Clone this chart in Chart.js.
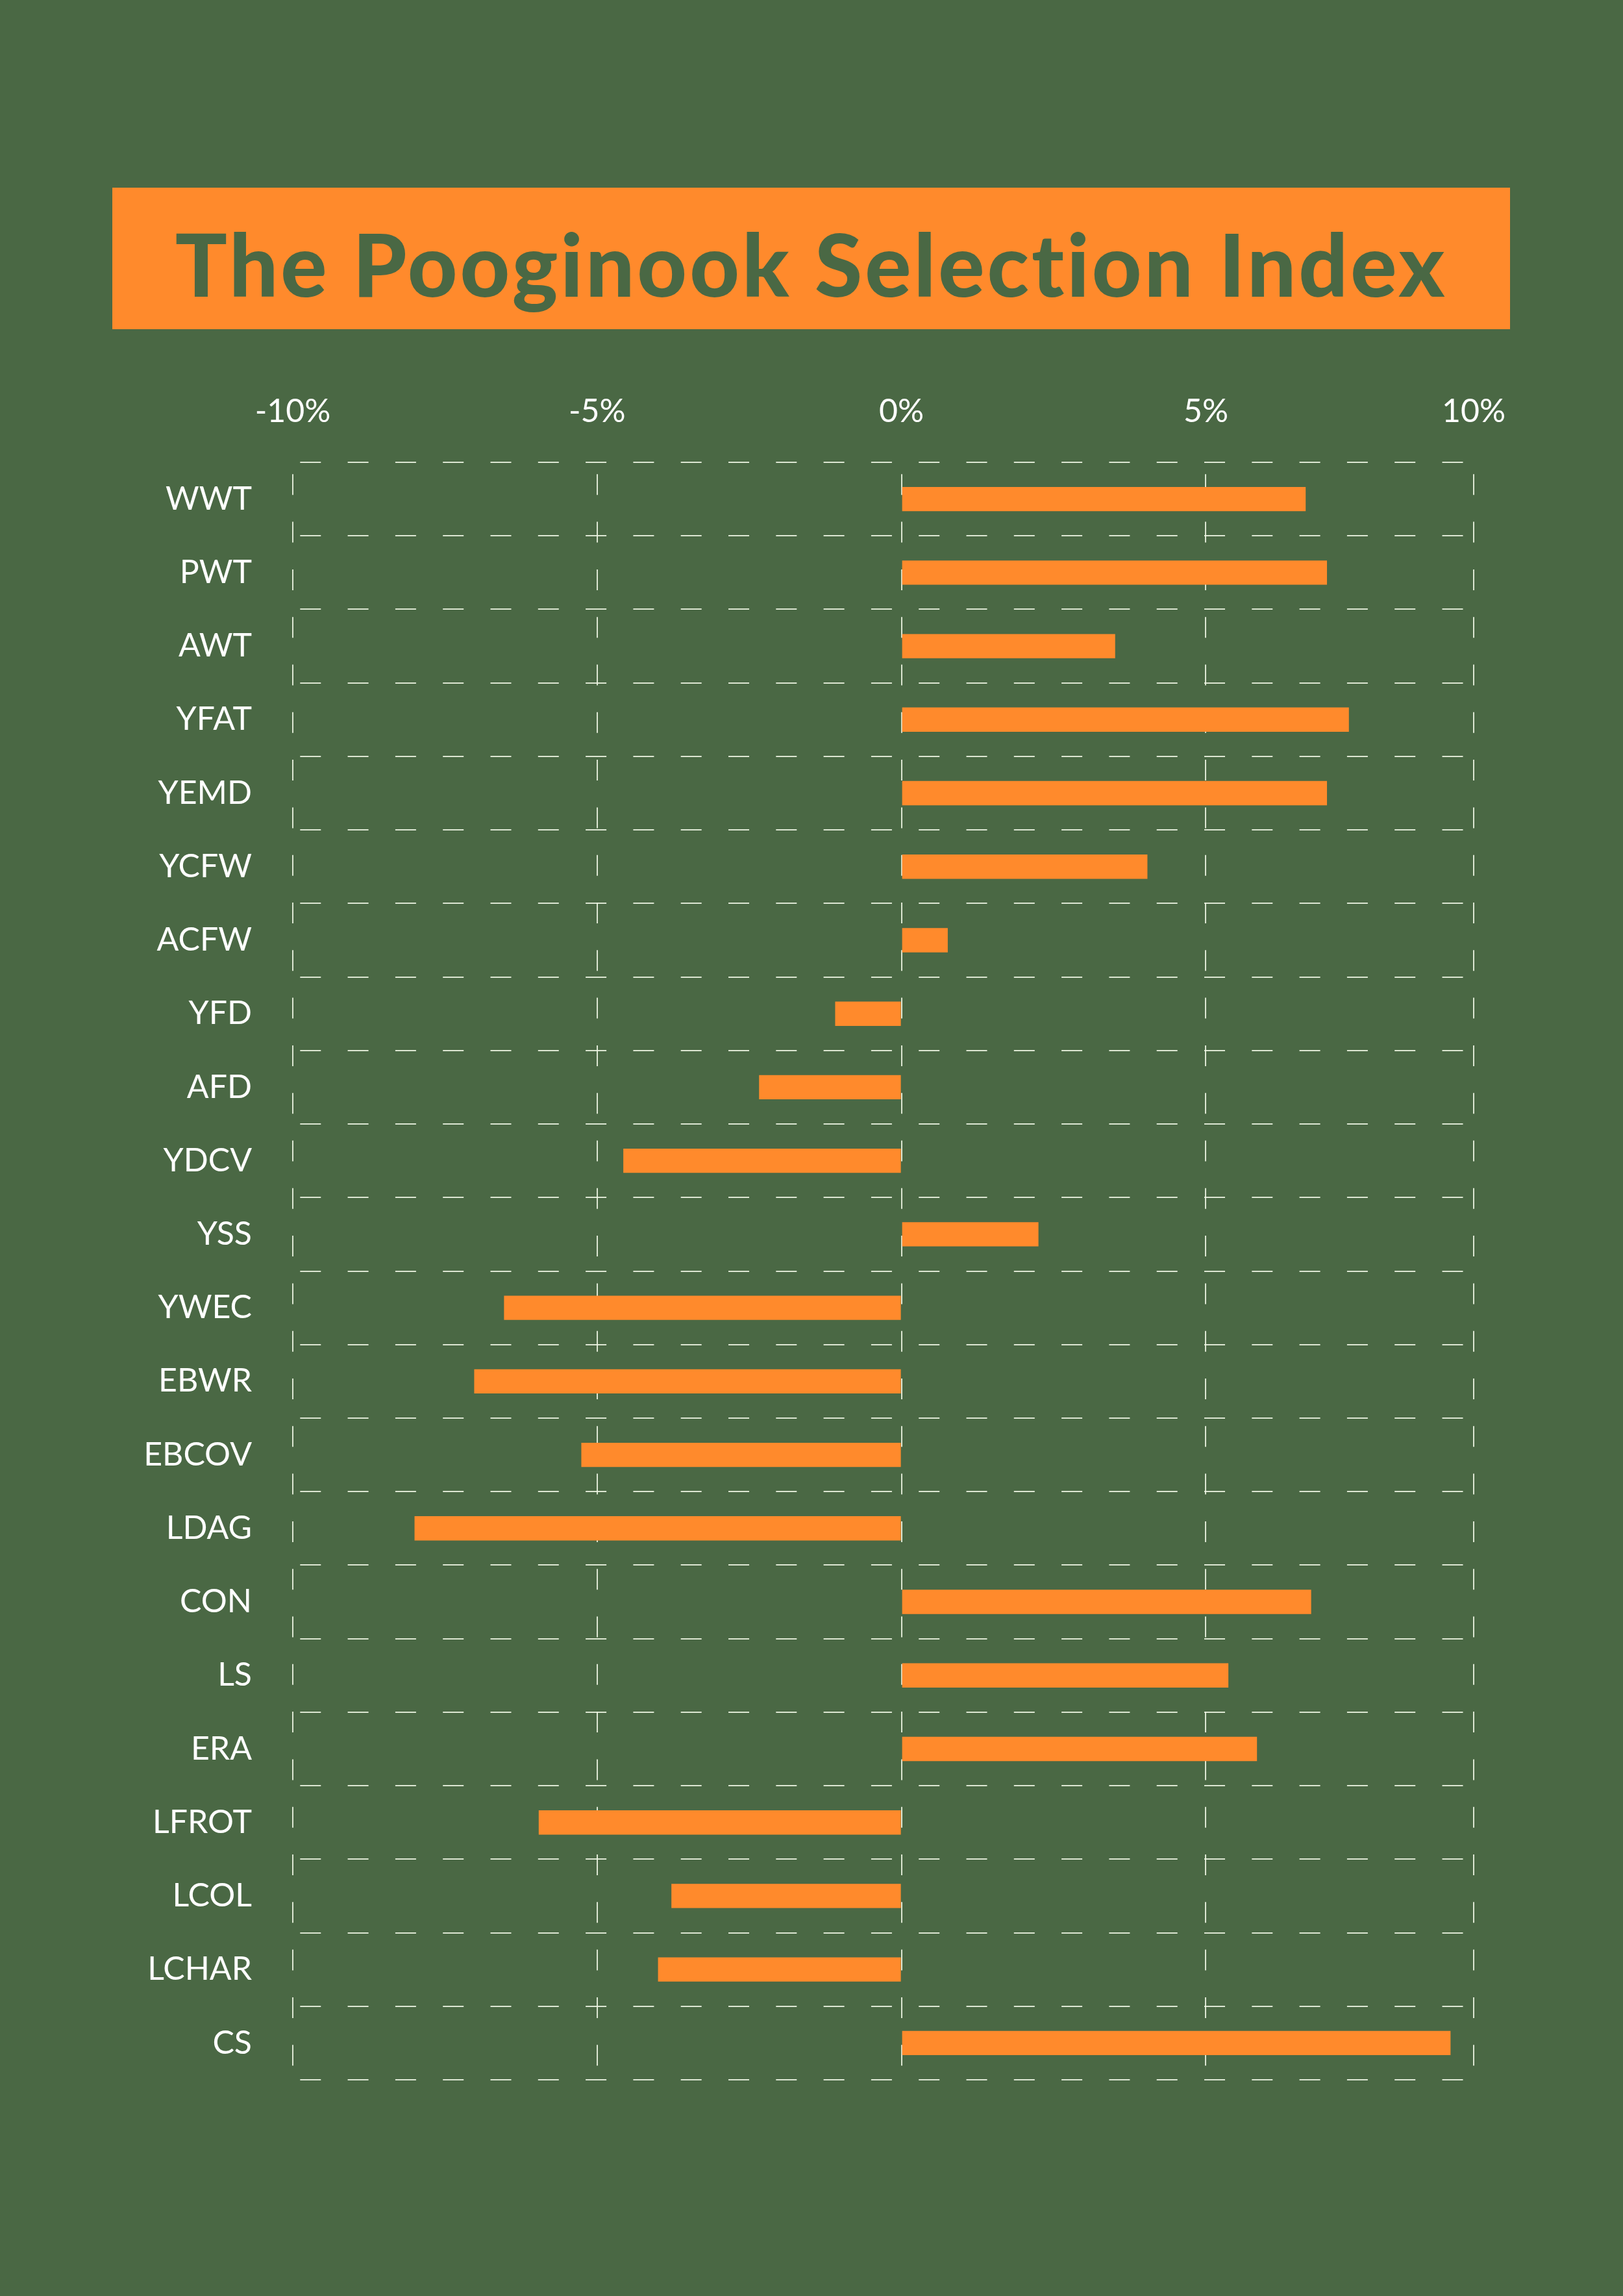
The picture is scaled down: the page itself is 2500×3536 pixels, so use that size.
<!DOCTYPE html>
<html>
<head>
<meta charset="utf-8">
<title>The Pooginook Selection Index</title>
<script src="https://cdn.jsdelivr.net/npm/chart.js@4.4.0/dist/chart.umd.min.js"></script>
<style>
  html, body { margin: 0; padding: 0; background: #4a6844; }
  #wrap { position: relative; width: 2500px; height: 3536px; }
  #grafico { position: absolute; left: 0; top: 0; }
  #banner {
    position: absolute; left: 173px; top: 289px; width: 2153px; height: 218px;
    background: #ff8a2c; color: #4a6844;
    font-family: 'Lato', sans-serif; font-weight: 900; font-size: 133px;
    letter-spacing: 4px; font-variant-ligatures: none;
    display: flex; align-items: center; justify-content: center;
    box-sizing: border-box; padding-top: 14px;
  }
</style>
</head>
<body>
<div id="wrap">
  <canvas id="grafico" width="2500" height="3536"></canvas>
  <div id="banner">The Pooginook Selection Index</div>
</div>
<script>
const categories = ['WWT', 'PWT', 'AWT', 'YFAT', 'YEMD', 'YCFW', 'ACFW', 'YFD', 'AFD', 'YDCV', 'YSS',
                    'YWEC', 'EBWR', 'EBCOV', 'LDAG', 'CON', 'LS', 'ERA', 'LFROT', 'LCOL', 'LCHAR', 'CS'];
const indexValues = [6.64, 6.99, 3.51, 7.35, 6.99, 4.04, 0.76, -1.09, -2.34, -4.57, 2.25,
                     -6.53, -7.02, -5.26, -8.0, 6.73, 5.37, 5.84, -5.96, -3.78, -4.0, 9.02];
const tickValues = [-10, -5, 0, 5, 9.4];
const tickLabels = ['-10%', '-5%', '0%', '5%', '10%'];

const laranja = '#ff8a2c';
const corGrade = 'rgba(236, 244, 226, 0.9)';

function criarGrafico() {
    const ctx = document.getElementById('grafico');
    return new Chart(ctx, {
        type: 'bar',
        data: {
            labels: categories,
            datasets: [{
                data: indexValues,
                backgroundColor: laranja,
                borderWidth: 0,
                categoryPercentage: 1,
                barPercentage: 0.33
            }]
        },
        options: {
            indexAxis: 'y',
            responsive: false,
            animation: false,
            devicePixelRatio: 1,
            layout: { padding: { left: 0, top: 0, right: 230, bottom: 333 } },
            scales: {
                x: {
                    position: 'top',
                    min: -10,
                    max: 9.4,
                    afterBuildTicks: (scale) => {
                        scale.ticks = tickValues.map((v) => ({ value: v }));
                    },
                    afterFit: (scale) => { scale.height = 712; },
                    ticks: {
                        callback: (value, index) => tickLabels[index],
                        color: '#ffffff',
                        font: { family: 'Lato', size: 50 },
                        padding: 48,
                        maxRotation: 0,
                        autoSkip: false
                    },
                    grid: { color: corGrade, lineWidth: 2, drawTicks: false },
                    border: { display: false, dash: [32, 41.3], dashOffset: 55 }
                },
                y: {
                    afterFit: (scale) => { scale.width = 451; },
                    ticks: {
                        color: '#ffffff',
                        font: { family: 'Lato', size: 50 },
                        padding: 63,
                        autoSkip: false
                    },
                    grid: { offset: true, color: corGrade, lineWidth: 2, drawTicks: false },
                    border: { display: false, dash: [32, 41.3], dashOffset: 62 }
                }
            },
            plugins: {
                legend: { display: false },
                tooltip: { enabled: false },
                title: { display: false }
            }
        }
    });
}

criarGrafico();
</script>
</body>
</html>
